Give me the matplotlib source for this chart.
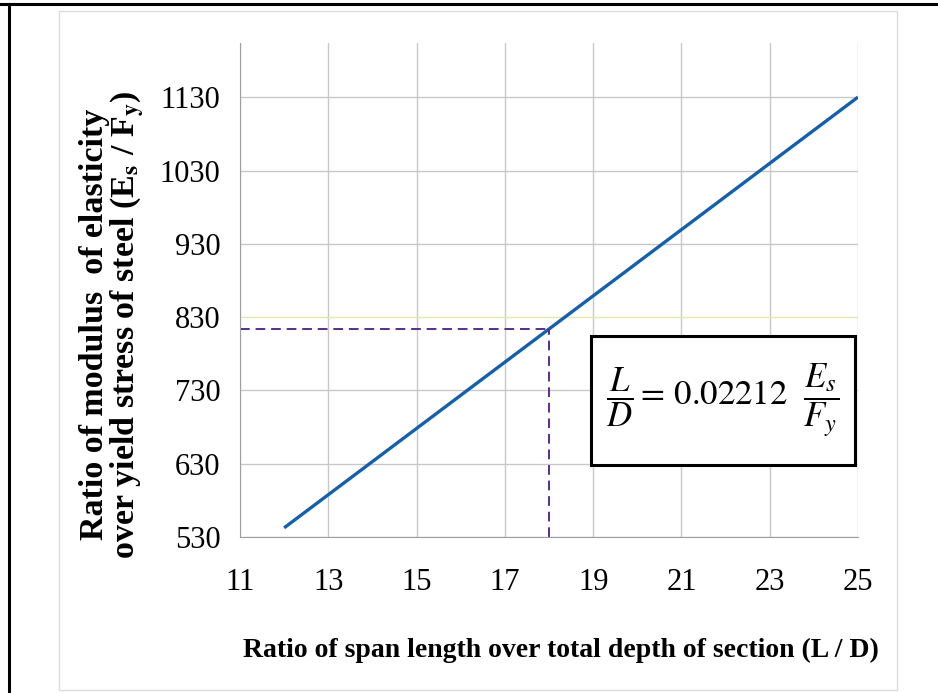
import matplotlib
matplotlib.use("Agg")
from matplotlib import pyplot as plt
from matplotlib.lines import Line2D
from matplotlib.patches import Rectangle

# Data
span_depth = [12, 25]              # L / D at the two ends of the line
modulus_ratio = [542.5, 1130.2]    # Es / Fy at those ends
marked_x = 18                      # dashed marker
marked_y = 813.7
x_ticks = [11, 13, 15, 17, 19, 21, 23, 25]
y_ticks = [530, 630, 730, 830, 930, 1030, 1130]

plt.rcParams['font.family'] = ['Liberation Serif', 'DejaVu Serif']
plt.rcParams['mathtext.fontset'] = 'stix'

W, H = 938, 693
fig = plt.figure(figsize=(W / 100, H / 100), dpi=100)

def fx(px):
    return px / W

def fy(py):
    return 1 - py / H

# outer frame: black top and left edges, light grey inner box
fig.add_artist(Line2D([0, 1], [fy(4), fy(4)], color='black', lw=2.2))
fig.add_artist(Line2D([fx(8.5), fx(8.5)], [fy(4), 0], color='black', lw=2.2))
fig.add_artist(Rectangle((fx(59), fy(690)), fx(897) - fx(59), fy(11) - fy(690),
                         fill=False, edgecolor='#dcdcdc', lw=1.0))

ax = fig.add_axes([fx(240), fy(537), fx(858) - fx(240), fy(43) - fy(537)])
ax.set_xlim(11, 25)
ax.set_ylim(530, 1204)
ax.set_xticks(x_ticks)
ax.set_yticks(y_ticks)
ax.grid(True, color='#c8c8c8', lw=1.0)
ax.set_axisbelow(True)
ax.get_ygridlines()[3].set_color('#dfe9b0')
for side in ['top', 'right']:
    ax.spines[side].set_visible(False)
for side in ['left', 'bottom']:
    ax.spines[side].set_color('#a0a0a0')
ax.tick_params(length=0, labelsize=22)
ax.tick_params(axis='y', pad=14)
ax.tick_params(axis='x', pad=22)

ax.plot(span_depth, modulus_ratio, color='#1560ad', lw=2.4, solid_capstyle='butt')
ax.plot([11, marked_x], [marked_y, marked_y], color='#5b2d8e', lw=1.4, ls=(0, (5, 3)))
ax.plot([marked_x, marked_x], [530, marked_y], color='#5b2d8e', lw=1.4, ls=(0, (5, 3)))

ax.set_xlabel('Ratio of span length over total depth of section (L / D)',
              fontsize=20, fontweight='bold', labelpad=30, x=0.52)
ax.set_ylabel('Ratio of modulus  of elasticity\nover yield stress of steel (E$_\\mathbf{s}$ / F$_\\mathbf{y}$)',
              fontsize=24.5, fontweight='bold', labelpad=10, linespacing=0.95, y=0.43)

# equation box
box_x0, box_x1 = (591 - 240) / 618, (855 - 240) / 618
box_y0, box_y1 = (537 - 465) / 494, (537 - 336) / 494
ax.add_patch(Rectangle((box_x0, box_y0), box_x1 - box_x0, box_y1 - box_y0,
                       transform=ax.transAxes, facecolor='white', edgecolor='black',
                       lw=2.2, zorder=3))
ax.text((box_x0 + box_x1) / 2, (box_y0 + box_y1) / 2,
        r'$\dfrac{L}{D} = \,0.02212\ \ \dfrac{E_s}{F_y}$',
        transform=ax.transAxes, ha='center', va='center', fontsize=25, zorder=4)

fig.savefig('out.png', dpi=100)
